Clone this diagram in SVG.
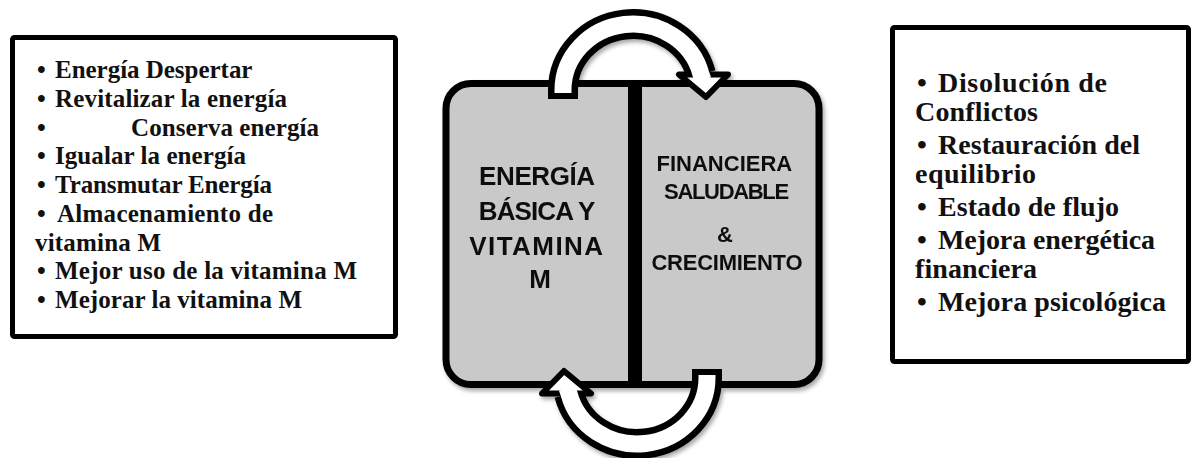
<svg xmlns="http://www.w3.org/2000/svg" width="1192" height="458" viewBox="0 0 1192 458">
<style>
.list{font-family:"Liberation Serif","Times New Roman",serif;font-weight:bold;fill:#111}
.l{font-size:25px}
.r{font-size:28px}
.ctr{font-family:"Liberation Sans",Arial,sans-serif;font-weight:bold;fill:#111;text-anchor:middle}
.frame{fill:#fff;stroke:#000;stroke-width:5}
.panel{fill:#c9c9c9;stroke:#000;stroke-width:7}
.bandB{fill:none;stroke:#000;stroke-width:30;stroke-linecap:butt}
.bandW{fill:none;stroke:#fff;stroke-width:17;stroke-linecap:butt}
.head{fill:#fff;stroke:#000;stroke-width:6;stroke-linejoin:round}
</style>
<defs>
<filter id="sh" x="-10%" y="-10%" width="120%" height="120%">
<feDropShadow dx="2" dy="3" stdDeviation="2" flood-color="#000" flood-opacity="0.35"/>
</filter>
<g id="arrowShape">
<path class="bandB" d="M563 99 L563 90 A70 66 0 0 1 700.9 74"/>
<polygon class="head" points="679,74.5 728,74.5 706,97"/>
<path class="bandW" d="M563 93 L563 90 A70 66 0 0 1 700.9 74 L703 80"/>
</g>
</defs>

<g id="left-box">
<rect class="frame" x="12.5" y="37.5" width="383" height="299" rx="2"/>
<text class="list l">
<tspan x="37" y="78">•</tspan><tspan x="55" y="78" textLength="197" lengthAdjust="spacing">Energía Despertar</tspan>
<tspan x="37" y="106.75">•</tspan><tspan x="55" y="106.75" textLength="232" lengthAdjust="spacing">Revitalizar la energía</tspan>
<tspan x="37" y="135.5">•</tspan><tspan x="131" y="135.5" textLength="188" lengthAdjust="spacing">Conserva energía</tspan>
<tspan x="37" y="164.25">•</tspan><tspan x="55" y="164.25" textLength="191" lengthAdjust="spacing">Igualar la energía</tspan>
<tspan x="37" y="193">•</tspan><tspan x="55" y="193" textLength="217" lengthAdjust="spacing">Transmutar Energía</tspan>
<tspan x="37" y="221.75">•</tspan><tspan x="57" y="221.75" textLength="216" lengthAdjust="spacing">Almacenamiento de</tspan>
<tspan x="35" y="250.5" textLength="126" lengthAdjust="spacing">vitamina M</tspan>
<tspan x="37" y="279.25">•</tspan><tspan x="55" y="279.25" textLength="302" lengthAdjust="spacing">Mejor uso de la vitamina M</tspan>
<tspan x="37" y="308">•</tspan><tspan x="55" y="308" textLength="247" lengthAdjust="spacing">Mejorar la vitamina M</tspan>
</text>
</g>

<g id="center" filter="url(#sh)">
<g id="panel">
<rect class="panel" x="446" y="83.5" width="373" height="301" rx="25"/>
<line x1="635" y1="82" x2="635" y2="386" stroke="#000" stroke-width="14"/>
</g>
<g id="connectors">
<use href="#arrowShape"/>
<use href="#arrowShape" transform="rotate(180 635 234)"/>
</g>
<g id="node-energia">
<text class="ctr" font-size="26">
<tspan x="540" y="185" textLength="115">ENERGÍA</tspan>
<tspan x="540" y="220" textLength="116">BÁSICA Y</tspan>
<tspan x="540" y="255" textLength="133">VITAMINA</tspan>
<tspan x="540" y="288">M</tspan>
</text>
</g>
<g id="node-financiera">
<text class="ctr" font-size="22">
<tspan x="727" y="171" textLength="135">FINANCIERA</tspan>
<tspan x="729" y="199" textLength="125">SALUDABLE</tspan>
<tspan x="728" y="242">&amp;</tspan>
<tspan x="727" y="270" textLength="151">CRECIMIENTO</tspan>
</text>
</g>
</g>

<g id="right-box">
<rect class="frame" x="892.5" y="27.5" width="296" height="334" rx="2"/>
<text class="list r">
<tspan x="917" y="92">•</tspan><tspan x="938" y="92" textLength="169" lengthAdjust="spacing">Disolución de</tspan>
<tspan x="915" y="121" textLength="123" lengthAdjust="spacing">Conflictos</tspan>
<tspan x="917" y="154">•</tspan><tspan x="938" y="154" textLength="202" lengthAdjust="spacing">Restauración del</tspan>
<tspan x="915" y="183" textLength="121" lengthAdjust="spacing">equilibrio</tspan>
<tspan x="917" y="216">•</tspan><tspan x="938" y="216" textLength="181" lengthAdjust="spacing">Estado de flujo</tspan>
<tspan x="917" y="249">•</tspan><tspan x="938" y="249" textLength="217" lengthAdjust="spacing">Mejora energética</tspan>
<tspan x="915" y="278" textLength="122" lengthAdjust="spacing">financiera</tspan>
<tspan x="917" y="311">•</tspan><tspan x="938" y="311" textLength="228" lengthAdjust="spacing">Mejora psicológica</tspan>
</text>
</g>
</svg>
